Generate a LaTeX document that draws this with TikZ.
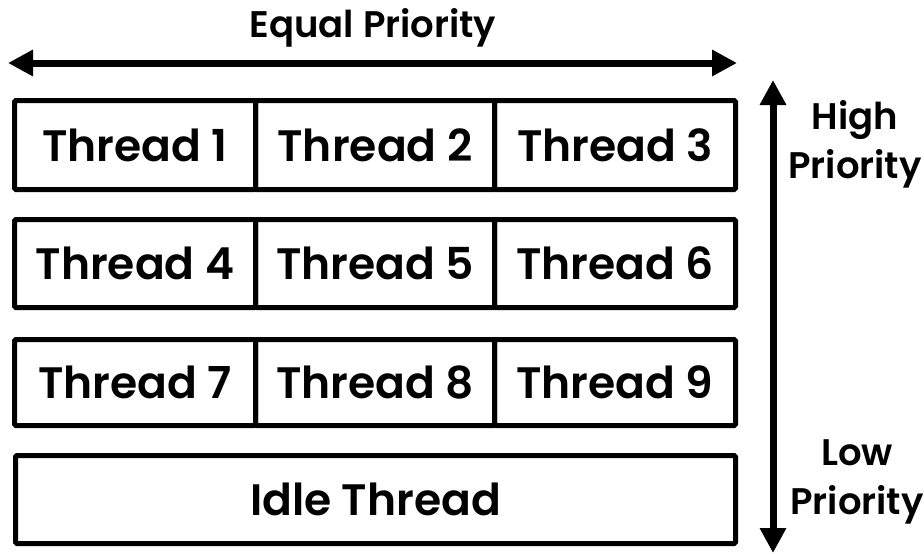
\documentclass[tikz,border=0pt]{standalone}
\usepackage{fontspec}
\setmainfont{Poppins}[BoldFont={* SemiBold}]
\usetikzlibrary{arrows.meta}
\begin{document}
\begin{tikzpicture}[x=1pt,y=-1pt,
  tbox/.style={draw=black,line width=5pt,rounded corners=1.5pt,inner sep=0pt,font=\fontsize{44}{44}\selectfont\bfseries},
  bigarrow/.style={line width=7pt},
  lbl/.style={font=\fontsize{37}{49}\selectfont\bfseries,align=center,inner sep=0pt}]
\useasboundingbox (0,0) rectangle (924,554);
% rows
\foreach \r/\top/\bot/\a/\b/\c in {1/98/187/1/2/3, 2/217/305/4/5/6, 3/337/423/7/8/9}{
  \node[tbox,minimum width=241pt,minimum height={\bot-\top},anchor=north west] (t\a) at (12,\top) {Thread \a};
  \node[tbox,minimum width=239pt,minimum height={\bot-\top},anchor=north west] (t\b) at (253,\top) {Thread \b};
  \node[tbox,minimum width=241pt,minimum height={\bot-\top},anchor=north west] (t\c) at (492,\top) {Thread \c};
}
\node[tbox,minimum width=720pt,minimum height=88pt,anchor=north west] (idle) at (13,453) {Idle Thread};
% arrows
\coordinate (hl) at (8,63);
\coordinate (hr) at (737,63);
\draw[bigarrow,{Triangle[length=25pt,width=25pt]}-{Triangle[length=25pt,width=25pt]}] (hl) -- (hr);
\coordinate (vt) at (773,80);
\coordinate (vb) at (773,553);
\draw[bigarrow,{Triangle[length=25pt,width=25pt]}-{Triangle[length=25pt,width=25pt]}] (vt) -- (vb);
% labels
\node[lbl] (eq) at (373,28) {Equal Priority};
\node[lbl] (hi) at (855,144) {High\\Priority};
\node[lbl] (lo) at (857,482) {Low\\Priority};
\end{tikzpicture}
\end{document}
